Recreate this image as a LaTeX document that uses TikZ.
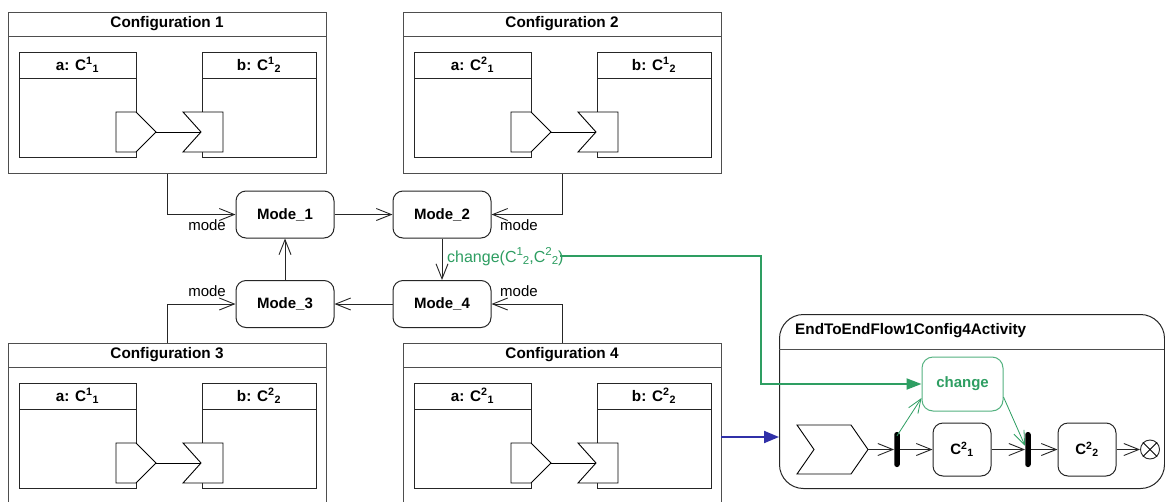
\documentclass[tikz,border=0pt]{standalone}
\usepackage{fontspec}
\setmainfont{Liberation Sans}
\usetikzlibrary{arrows.meta,calc}
\definecolor{fgreen}{RGB}{46,158,98}
\definecolor{fgreenl}{RGB}{84,178,128}
\definecolor{fblue}{RGB}{48,48,168}
\definecolor{lgray}{RGB}{78,78,78}
\newcommand\supsub[2]{\textsuperscript{#1}\textsubscript{#2}}
\newcommand\bigsupsub[2]{\raisebox{0.42em}{\fontsize{11.5}{12}\selectfont #1}\raisebox{-0.18em}{\fontsize{11.5}{12}\selectfont #2}}
\tikzset{
  txt/.style={font=\fontsize{15}{18}\selectfont, inner sep=0pt},
  ttl/.style={font=\fontsize{15.3}{18}\selectfont\bfseries, inner sep=0pt},
  cfgbox/.style={draw=lgray, line width=1pt, anchor=north west, minimum width=318pt, inner sep=0pt},
  frame/.style={draw=lgray, line width=1pt},
  inbox/.style={draw=black!85, line width=0.9pt, anchor=north west, minimum width=117pt, minimum height=105pt, inner sep=0pt},
  inframe/.style={draw=black!85, line width=0.9pt},
  port/.style={draw=black, line width=0.9pt, fill=white},
  plain/.style={draw=black, line width=0.9pt},
  modebox/.style={draw=black!85, line width=1pt, rounded corners=10pt, minimum width=98pt, minimum height=47pt, inner sep=0pt, font=\fontsize{15}{18}\selectfont\bfseries},
  arr/.style={draw=black!85, line width=0.9pt, -{Straight Barb[length=15pt,width=12pt]}},
  gflow/.style={draw=fgreen, line width=2pt, -{Triangle[length=15pt,width=11pt]}},
  bflow/.style={draw=fblue, line width=2pt, -{Triangle[length=15pt,width=12pt]}},
  gthin/.style={draw=fgreen, line width=0.8pt, -{Straight Barb[length=14pt,width=11pt]}},
  actnode/.style={draw=black!85, line width=1pt, rounded corners=10pt, minimum width=58pt, minimum height=53pt, inner sep=0pt, font=\fontsize{15}{18}\selectfont\bfseries},
  forkbar/.style={fill=black, draw=none, rounded corners=2.5pt, minimum width=5.5pt, minimum height=35pt, inner sep=0pt},
}
\newcommand\cfgfig[7]{%
  \node[cfgbox, minimum height=#4pt] (#1) at (#2,#3) {};
  \begin{scope}[shift={(#2,#3)}]
    \draw[frame] (0,24) -- (318,24);
    \node[ttl] (#1t) at (159,12) {#5};
    \node[inbox] (#1a) at (11,40) {};
    \draw[inframe] (11,66) -- (128,66);
    \node[ttl] (#1al) at (69.5,53) {#6};
    \node[inbox, minimum width=114pt] (#1b) at (194,40) {};
    \draw[inframe] (194,66) -- (308,66);
    \node[ttl] (#1bl) at (251,53) {#7};
    \draw[port] (108,100) -- (128,100) -- (148,120) -- (128,140) -- (108,140) -- cycle;
    \draw[port] (175,100) -- (215,100) -- (215,140) -- (175,140) -- (193,120) -- cycle;
    \coordinate (#1pa) at (148,120);
    \coordinate (#1pb) at (193,120);
    \draw[plain] (#1pa) -- (#1pb);
  \end{scope}}
\begin{document}
\begin{tikzpicture}[x=1pt,y=-1pt]
\useasboundingbox (0,0) rectangle (1165,501);
\clip (0,0) rectangle (1165,501);
\fill[white] (0,0) rectangle (1165,501);

\cfgfig{c1}{8}{12}{161}{Configuration 1}{a: C\supsub{1}{1}}{b: C\supsub{1}{2}}
\cfgfig{c2}{403}{12}{161}{Configuration 2}{a: C\supsub{2}{1}}{b: C\supsub{1}{2}}
\cfgfig{c3}{8}{343}{175}{Configuration 3}{a: C\supsub{1}{1}}{b: C\supsub{2}{2}}
\cfgfig{c4}{403}{343}{175}{Configuration 4}{a: C\supsub{2}{1}}{b: C\supsub{2}{2}}

% modes
\node[modebox] (m1) at (285,214.5) {Mode\_1};
\node[modebox] (m2) at (442,214.5) {Mode\_2};
\node[modebox] (m3) at (285,304) {Mode\_3};
\node[modebox] (m4) at (442,304) {Mode\_4};

\draw[arr] (c1.south) |- (m1.west);
\draw[arr] (c2.south) |- (m2.east);
\draw[arr] (c3.north) |- (m3.west);
\draw[arr] (c4.north) |- (m4.east);
\draw[arr] (m1.east) -- (m2.west);
\draw[arr] (m2.south) -- (m4.north);
\draw[arr] (m4.west) -- (m3.east);
\draw[arr] (m3.north) -- (m1.south);

\node[txt, anchor=north east] (l1) at (226,219) {mode};
\node[txt, anchor=north west] (l2) at (500,219) {mode};
\node[txt, anchor=north east] (l3) at (226,285) {mode};
\node[txt, anchor=north west] (l4) at (500,285) {mode};

\node[txt, font=\fontsize{16}{19}\selectfont, text=fgreen, anchor=base west] (chl) at (447,262)
  {change(C\bigsupsub{1}{2},C\bigsupsub{2}{2})};

% activity
\node[draw=black!85, line width=1pt, rounded corners=24pt, anchor=north west,
      minimum width=385pt, minimum height=174pt, inner sep=0pt] (act) at (779,314) {};
\draw[frame] (779,349) -- (1164,349);
\node[ttl, anchor=west] (actt) at (795,331) {EndToEndFlow1Config4Activity};

\node[draw=fgreenl, line width=1pt, rounded corners=11pt, minimum width=81pt, minimum height=54pt,
      inner sep=0pt, text=fgreen, font=\fontsize{15}{18}\selectfont\bfseries] (chg) at (962.5,384) {change};

\draw[port] (797,425) -- (851,425) -- (868,449.5) -- (851,474) -- (797,474) -- (814,449.5) -- cycle;
\coordinate (acc) at (868,449.5);
\node[forkbar] (f1) at (897,449.5) {};
\node[actnode] (c21) at (962,449.5) {C\supsub{2}{1}};
\node[forkbar] (f2) at (1028,449.5) {};
\node[actnode] (c22) at (1087,449.5) {C\supsub{2}{2}};
\node[draw=black!85, line width=0.9pt, circle, minimum size=19pt, inner sep=0pt] (fin) at (1150,449.5) {};
\draw[plain] (fin.north east) -- (fin.south west);
\draw[plain] (fin.north west) -- (fin.south east);

\draw[arr] (acc) -- (f1.west);
\draw[arr] (f1.east) -- (c21.west);
\draw[arr] (c21.east) -- (f2.west);
\draw[arr] (f2.east) -- (c22.west);
\draw[arr] (c22.east) -- (fin.west);

\draw[gthin] ([yshift=-4pt]f1.north) -- ([yshift=-14pt]chg.west);
\draw[gthin] ([yshift=-13pt]chg.east) -- ([yshift=-14pt]f2.north west);

% green change flow
\coordinate (gturn) at (761,320);
\draw[gflow] ([xshift=-4pt]chl.east) -| (gturn) |- (chg.west);

% blue flow
\coordinate (c4r) at (721,437);
\draw[bflow] (c4r) -- (c4r -| act.west);
\end{tikzpicture}
\end{document}
